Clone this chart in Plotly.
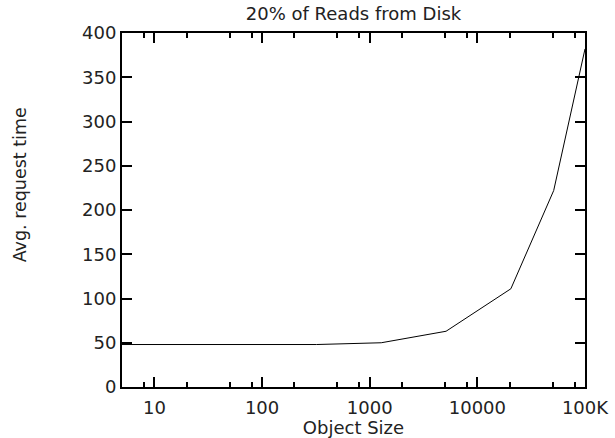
import numpy as np
import plotly.graph_objects as go

sizes = [5, 20, 80, 320, 1280, 5120, 20480, 51200, 100000]
avg_time = [48, 48, 48, 48, 50, 63, 111, 222, 382]

x_tickvals = [10, 100, 1000, 10000, 100000]
x_ticktext = ["10", "100", "1000", "10000", "100K"]
x_minor = [m * d for d in [1, 10, 100, 1000, 10000] for m in (2, 5, 8)] + [8]
y_tickvals = [0, 50, 100, 150, 200, 250, 300, 350, 400]

FONT = "DejaVu Sans"

fig = go.Figure()
fig.add_trace(go.Scatter(x=sizes, y=avg_time, mode="lines",
                         line=dict(color="black", width=1), showlegend=False))

fig.update_layout(
    width=615, height=438,
    margin=dict(l=122, r=30, t=33, b=51),
    paper_bgcolor="white", plot_bgcolor="white",
    font=dict(family=FONT, size=18, color="#222"),
    title=dict(text="20% of Reads from Disk", x=0.5, xref="paper", xanchor="center",
               y=0.968, yanchor="middle", font=dict(size=18, family=FONT)),
)
fig.update_xaxes(
    type="log", range=[np.log10(5), 5], automargin=False,
    tickmode="array", tickvals=x_tickvals, ticktext=x_ticktext,
    ticks="inside", ticklen=10, tickwidth=1.5, tickcolor="black",
    showline=True, linewidth=2, linecolor="black", mirror="allticks",
    showgrid=False, zeroline=False,
    minor=dict(tickmode="array", tickvals=x_minor, ticks="inside", ticklen=5,
               tickwidth=1.5, tickcolor="black", showgrid=False),
    ticklabelstandoff=3,
    title=dict(text="Object Size", standoff=0, font=dict(size=18)),
)
fig.update_yaxes(
    range=[0, 400], automargin=False,
    tickmode="array", tickvals=y_tickvals,
    ticks="inside", ticklen=10, tickwidth=1.5, tickcolor="black",
    showline=True, linewidth=2, linecolor="black", mirror="allticks",
    showgrid=False, zeroline=False,
    ticklabelstandoff=0,
)
fig.add_annotation(text="Avg. request time", textangle=-90, showarrow=False,
                   xref="paper", yref="paper", x=-0.22, y=0.57,
                   xanchor="center", yanchor="middle",
                   font=dict(size=17.5, family=FONT, color="#222"))

fig.write_html("out.html")
